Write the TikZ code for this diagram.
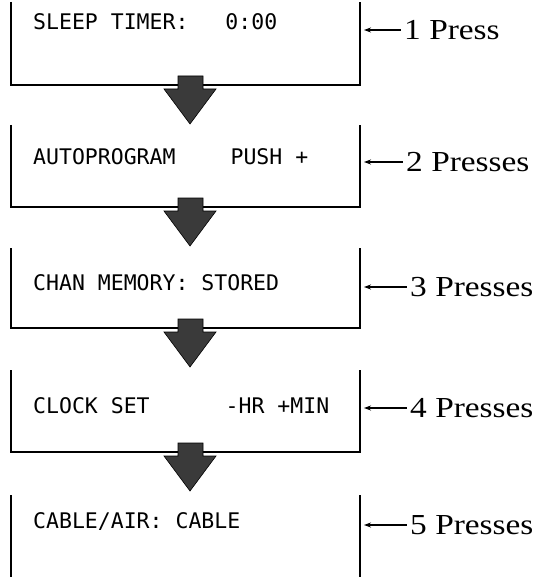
\documentclass[tikz,border=0pt]{standalone}
\usepackage{fontspec}
\setmainfont{Liberation Serif}
\newfontfamily\lcdfont{DejaVu Sans Mono}
\usetikzlibrary{arrows.meta,positioning}
\definecolor{arrowgray}{HTML}{3A3A3A}
\tikzset{
  panel/.style={draw=black, line width=1.1pt},
  lcd/.style={anchor=base west, inner sep=0pt, font=\lcdfont\fontsize{21.5}{21.5}\selectfont},
  press/.style={anchor=west, inner sep=0pt, xscale=1.15, font=\fontsize{29}{29}\selectfont},
  ptr/.style={{Stealth[length=7pt,width=5pt]}-, line width=1.1pt},
  bigarrow/.style={fill=arrowgray, draw=black, line width=0.6pt},
}

\begin{document}
\begin{tikzpicture}[x=1pt, y=-1pt]
  \useasboundingbox (0,0) rectangle (543,577);
  % display panels: left, bottom and right edge only
  \foreach \t/\b in {2/85, 125/207, 248/328, 370/452, 495/590}
     \draw[panel] (11,\t) |- (360,\b) -- (360,\t);
  % arrows between panels
  \foreach \b in {85,207,328,452}
     \draw[bigarrow] (178,\b-9) -- (203,\b-9) -- (203,\b+4) -- (216,\b+4)
        -- (190,\b+39) -- (164,\b+4) -- (178,\b+4) -- cycle;
  % panel texts
  \node[lcd] (lcd1) at (33,30)  {SLEEP TIMER:\hspace{37pt}0:00};
  \node[lcd] (lcd2) at (33,165) {AUTOPROGRAM\hspace{55pt}PUSH +};
  \node[lcd] (lcd3) at (33,290) {CHAN MEMORY: STORED};
  \node[lcd] (lcd4) at (33,413) {CLOCK SET\hspace{76pt}-HR +MIN};
  \node[lcd] (lcd5) at (33,528) {CABLE/AIR: CABLE};
  % key presses
  \foreach \n/\y/\x/\txt in {1/30/404/1 Press, 2/162/406/2 Presses, 3/287/410/3 Presses,
                             4/408/410/4 Presses, 5/525/410/5 Presses}{
     \coordinate (edge\n) at (364,\y);
     \node[press] (press\n) at (\x,\y) {\txt};
     \draw[ptr] (edge\n) -- ([xshift=-3pt]press\n.west);
  }
\end{tikzpicture}
\end{document}
